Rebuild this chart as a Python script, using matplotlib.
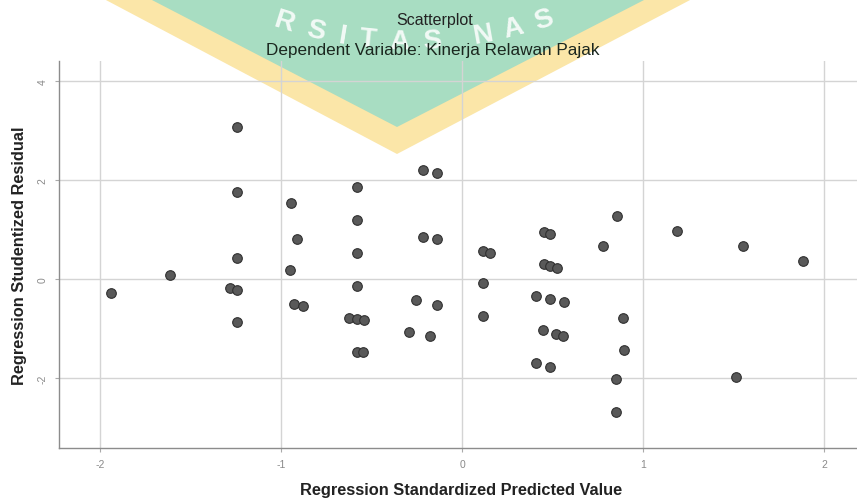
import numpy as np
import matplotlib.pyplot as plt
from matplotlib.patches import Polygon

# Regression standardized predicted value (x) and studentized residual (y)
pred = [-1.942, -1.616, -1.248, -1.248, -1.248, -1.285, -1.244, -1.248,
        -0.949, -0.916, -0.955, -0.928, -0.881,
        -0.581, -0.581, -0.585, -0.585, -0.625, -0.585, -0.544, -0.585, -0.548,
        -0.217, -0.141, -0.217, -0.141, -0.255, -0.141, -0.294, -0.178,
        0.112, 0.152, 0.112, 0.115,
        0.452, 0.483, 0.449, 0.483, 0.520, 0.408, 0.483, 0.559,
        0.446, 0.517, 0.557, 0.408, 0.483,
        0.852, 0.775, 0.885, 0.892, 0.848, 0.848,
        1.183, 1.551, 1.511, 1.883]
resid = [-0.281, 0.093, 3.074, 1.759, 0.431, -0.186, -0.226, -0.870,
         1.543, 0.805, 0.194, -0.510, -0.534,
         1.873, 1.199, 0.538, -0.135, -0.783, -0.803, -0.829, -1.476, -1.476,
         2.216, 2.150, 0.861, 0.809, -0.425, -0.520, -1.072, -1.147,
         0.578, 0.538, -0.075, -0.736,
         0.963, 0.922, 0.303, 0.263, 0.222, -0.344, -0.404, -0.465,
         -1.025, -1.112, -1.153, -1.699, -1.767,
         1.274, 0.679, -0.789, -1.436, -2.016, -2.690,
         0.977, 0.667, -1.970, 0.376]

xticks = [-2, -1, 0, 1, 2]
yticks = [-2, 0, 2, 4]

W, H = 857, 502
plt.rcParams['font.family'] = ['Liberation Sans', 'DejaVu Sans']
plt.rcParams['axes.unicode_minus'] = False
fig = plt.figure(figsize=(W / 100, H / 100), dpi=100)

# watermark layer (pixel coordinates, y down)
wm = fig.add_axes([0, 0, 1, 1], zorder=0)
wm.set_xlim(0, W)
wm.set_ylim(H, 0)
wm.axis('off')
wm.add_patch(Polygon([(104, 0), (397, 155), (692, 0)], closed=True,
                     facecolor='#fbe6a8', edgecolor='none'))
wm.add_patch(Polygon([(150, 0), (397, 128), (646, 0)], closed=True,
                     facecolor='#a8ddc2', edgecolor='none'))
letters = ['R', 'S', 'I', 'T', 'A', 'S', 'N', 'A', 'S']
angles = [-17.5, -13, -9.3, -5.8, -1.5, 3, 10, 14.3, 18.6]
cx, cy, rad = 410, -378, 420
for ch, a in zip(letters, angles):
    t = np.radians(a)
    wm.text(cx + rad * np.sin(t), cy + rad * np.cos(t), ch, color='white',
            fontsize=20, fontweight='bold', ha='center', va='center',
            rotation=a, alpha=0.85)

ax = fig.add_axes([59 / W, 1 - 449.3 / H, 1 - 59 / W, (449.3 - 62) / H], zorder=1)
ax.set_facecolor('none')
ax.scatter(pred, resid, s=48, facecolor='#595959', edgecolor='#303030',
           linewidth=0.8, zorder=3)

ax.set_xlim(-2.229, 2.18)
ax.set_ylim(-3.418, 4.414)
ax.set_xticks(xticks)
ax.set_yticks(yticks)
ax.grid(True, color='#d4d4d4', lw=1)
ax.set_axisbelow(True)
for s in ['top', 'right']:
    ax.spines[s].set_visible(False)
for s in ['left', 'bottom']:
    ax.spines[s].set_color('#8c8c8c')
    ax.spines[s].set_linewidth(1)
ax.tick_params(axis='both', length=3, color='#aaaaaa', labelsize=7.5,
               labelcolor='#8a8a8a', pad=5)
for lab in ax.get_yticklabels():
    lab.set_rotation(90)
    lab.set_va('center')

fig.text(435 / W, 1 - 20 / H, 'Scatterplot', ha='center', va='center',
         fontsize=11.5, color='#222222', zorder=5)
fig.text(433 / W, 1 - 50 / H, 'Dependent Variable: Kinerja Relawan Pajak',
         ha='center', va='center', fontsize=12.3, color='#1a261e', zorder=5)
fig.text(461 / W, 1 - 491 / H, 'Regression Standardized Predicted Value',
         ha='center', va='center', fontsize=11.8, fontweight='bold',
         color='#222222')
fig.text(20 / W, 1 - 256 / H, 'Regression Studentized Residual', ha='center',
         va='center', rotation=90, fontsize=11.8, fontweight='bold',
         color='#222222')

fig.savefig('out.png', dpi=100)
